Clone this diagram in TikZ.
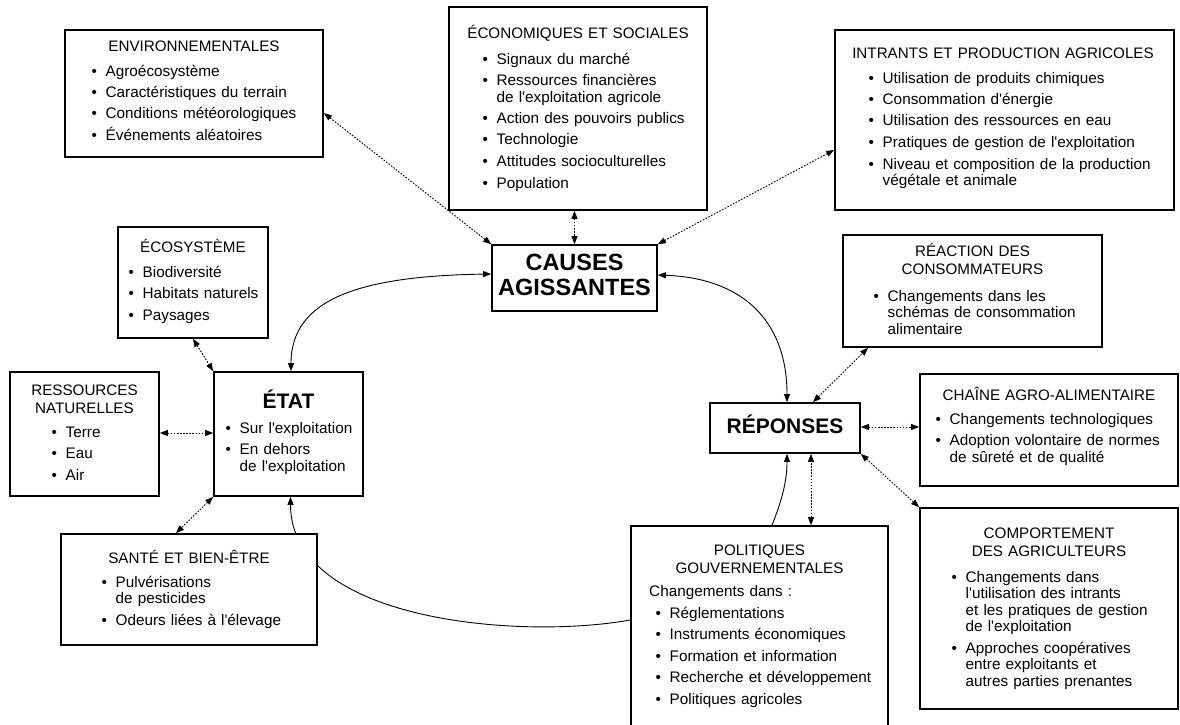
\documentclass[tikz,border=0pt]{standalone}
\usepackage{fontspec}
\setmainfont{Liberation Sans}[Ligatures=TeXOff]
\usetikzlibrary{arrows.meta,backgrounds}
\newcommand\itfont{\fontsize{15.3}{16.5}\selectfont}
\newcommand\hdfont{\fontsize{15.2}{18.5}\selectfont}
\newcommand\bgfont{\fontsize{21}{25}\selectfont\bfseries}
\newcommand\cafont{\fontsize{23.5}{25}\selectfont\bfseries}
\newcommand\bi[1]{\hangindent=14pt\hangafter=1\noindent\makebox[14pt][l]{\textbullet}#1}
\newcommand\isep{\par\vspace{5pt}}
\newcommand\mkbox[5]{\node[bx,minimum width={#4-#2},minimum height={#5-#3}] (#1) at ({(#2+#4)/2},{(#3+#5)/2}) {};}
\tikzset{
  >={Triangle[length=8pt,width=6pt]},
  bx/.style={draw=black, line width=1.7pt, fill=white, inner sep=0pt},
  hd/.style={inner sep=0pt, anchor=base, align=center, font=\hdfont, text width=400pt},
  li/.style={inner sep=0pt, anchor=base west, align=left, font=\itfont, text width=330pt},
  tt/.style={inner sep=0pt, anchor=base, align=center, font=\bgfont, text width=200pt},
  dl/.style={line width=0.9pt, dash pattern=on 1.6pt off 1.5pt, <->},
  sl/.style={line width=0.9pt}
}
\begin{document}
\begin{tikzpicture}[x=1pt,y=-1pt]
\useasboundingbox (0,0) rectangle (1180,725);
\clip (0,0) rectangle (1180,725);

% ENVIRONNEMENTALES
\mkbox{env}{65}{30}{323}{157}
\node[hd] (envH) at (194,52) {ENVIRONNEMENTALES};
\node[li] (envL) at (91.5,76) {\bi{Agroécosystème}\isep\bi{Caractéristiques du terrain}\isep\bi{Conditions météorologiques}\isep\bi{Événements aléatoires}\par};

% ECONOMIQUES
\mkbox{econ}{449}{7}{707}{210}
\node[hd] (econH) at (578,39) {ÉCONOMIQUES ET SOCIALES};
\node[li] (econL) at (482.5,64) {\bi{Signaux du marché}\isep\bi{Ressources financières\newline de l'exploitation agricole}\isep\bi{Action des pouvoirs publics}\isep\bi{Technologie}\isep\bi{Attitudes socioculturelles}\isep\bi{Population}\par};

% INTRANTS
\mkbox{intr}{835}{30}{1174}{210}
\node[hd] (intrH) at (1003,59) {INTRANTS ET PRODUCTION AGRICOLES};
\node[li] (intrL) at (868.5,83) {\bi{Utilisation de produits chimiques}\isep\bi{Consommation d'énergie}\isep\bi{Utilisation des ressources en eau}\isep\bi{Pratiques de gestion de l'exploitation}\isep\bi{Niveau et composition de la production\newline végétale et animale}\par};

% CAUSES
\mkbox{causes}{492}{245}{657}{311}
\node[tt, font=\cafont] (causesT) at (574.5,270) {CAUSES\\AGISSANTES};

% ECOSYSTEME
\mkbox{eco}{118}{227}{268}{338}
\node[hd] (ecoH) at (193,252) {ÉCOSYSTÈME};
\node[li] (ecoL) at (128.5,277) {\bi{Biodiversité}\isep\bi{Habitats naturels}\isep\bi{Paysages}\par};

% RESSOURCES
\mkbox{ress}{10}{372}{159}{496}
\node[hd] (ressH) at (84.5,395) {RESSOURCES\\NATURELLES};
\node[li] (ressL) at (51.5,437) {\bi{Terre}\isep\bi{Eau}\isep\bi{Air}\par};

% ETAT
\mkbox{etat}{214}{372}{363}{496}
\node[tt] (etatT) at (288.5,408) {ÉTAT};
\node[li] (etatL) at (225.5,433) {\bi{Sur l'exploitation}\isep\bi{En dehors\newline de l'exploitation}\par};

% SANTE
\mkbox{san}{61}{534}{317}{645}
\node[hd] (sanH) at (189,563) {SANTÉ ET BIEN-ÊTRE};
\node[li] (sanL) at (101.5,587) {\bi{Pulvérisations\newline de pesticides}\isep\bi{Odeurs liées à l'élevage}\par};

% REACTION
\mkbox{react}{843}{235}{1102}{347}
\node[hd] (reactH) at (972.5,256) {RÉACTION DES\\CONSOMMATEURS};
\node[li] (reactL) at (873.5,301) {\bi{Changements dans les\newline schémas de consommation\newline alimentaire}\par};

% REPONSES
\mkbox{rep}{710}{403}{860}{453}
\node[tt] (repT) at (785,433) {RÉPONSES};

% CHAINE
\mkbox{chain}{920}{374}{1178}{486}
\node[hd] (chainH) at (1049,400) {CHAÎNE AGRO-ALIMENTAIRE};
\node[li] (chainL) at (935.5,424) {\bi{Changements technologiques}\isep\bi{Adoption volontaire de normes\newline de sûreté et de qualité}\par};

% COMPORTEMENT
\mkbox{comp}{920}{508}{1178}{709}
\node[hd] (compH) at (1049,538) {COMPORTEMENT\\DES AGRICULTEURS};
\node[li] (compL) at (951.5,582) {\bi{Changements dans\newline l'utilisation des intrants\newline et les pratiques de gestion\newline de l'exploitation}\isep\bi{Approches coopératives\newline entre exploitants et\newline autres parties prenantes}\par};

% POLITIQUES
\mkbox{pol}{631}{526}{888}{740}
\node[hd] (polH) at (759.5,555) {POLITIQUES\\GOUVERNEMENTALES};
\node[li] (polC) at (649,596) {Changements dans :};
\node[li] (polL) at (655.5,618) {\bi{Réglementations}\isep\bi{Instruments économiques}\isep\bi{Formation et information}\isep\bi{Recherche et développement}\isep\bi{Politiques agricoles}\par};

\begin{pgfonlayer}{background}
\fill[white] (0,0) rectangle (1180,725);
% dotted links
\draw[dl] (env.east |- 0,113) -- (causes.north west);
\draw[dl] (causes.north |- econ.south) -- (causes.north);
\draw[dl] (intr.west |- 0,150) -- (causes.north east);
\draw[dl] (eco.south) -- (etat.north west);
\draw[dl] (ress.east |- 0,433) -- (etat.west |- 0,433);
\draw[dl] (etat.south west) -- (san.north -| 176,0);
\draw[dl] (rep.north -| 813,0) -- (react.south -| 868,0);
\draw[dl] (rep.east |- 0,427) -- (chain.west |- 0,427);
\draw[dl] (rep.south east) -- (comp.north west);
\draw[dl] (pol.north -| 811,0) -- (rep.south -| 811,0);
% solid links
\draw[sl,<->] (causes.west |- 0,274) .. controls +(-132,2) and +(0,-72) .. (etat.north -| 291,0);
\draw[sl,<->] (causes.east |- 0,275) .. controls +(83,3) and +(0,-83) .. (rep.north -| 787,0);
\draw[sl,->] (pol.west |- 0,620) .. controls +(-111,20) and +(0,124) .. (etat.south -| 290.5,0);
\draw[sl,->] (pol.north -| 772,0) .. controls +(10,-25) and +(0,27) .. (rep.south -| 787,0);
\end{pgfonlayer}
\end{tikzpicture}
\end{document}
